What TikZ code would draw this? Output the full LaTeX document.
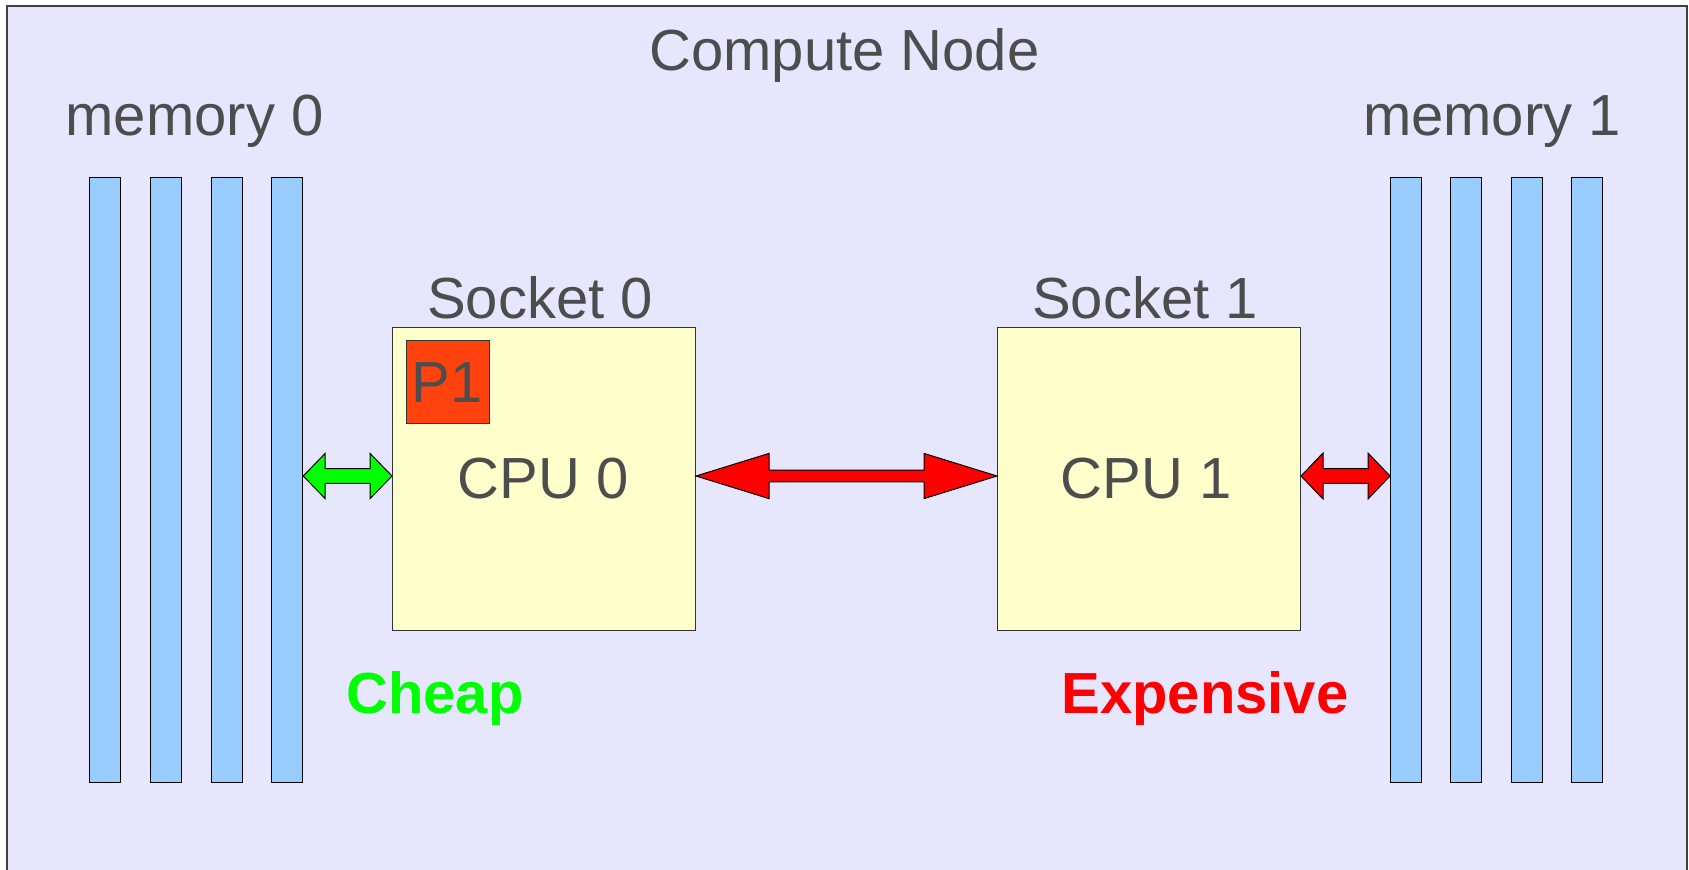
\documentclass[tikz,border=0pt]{standalone}
\usepackage{fontspec}
\setmainfont{Liberation Sans}
\usetikzlibrary{calc}
\definecolor{bgc}{HTML}{E6E6FF}
\definecolor{barc}{HTML}{99CCFF}
\definecolor{cpuc}{HTML}{FFFFCC}
\definecolor{pc}{HTML}{FF420E}
\definecolor{txt}{HTML}{4D4D4D}
\definecolor{grn}{HTML}{00FF00}
\definecolor{rd}{HTML}{FF0000}
\newcommand{\dblarrow}[6]{%
  \draw[#1] let \p1=(#2), \p2=(#3) in
    (\x1,\y1) -- (\x1+#4,\y1+#6) -- (\x1+#4,\y1+#5) -- (\x2-#4,\y1+#5) -- (\x2-#4,\y1+#6)
    -- (\x2,\y1) -- (\x2-#4,\y1-#6) -- (\x2-#4,\y1-#5) -- (\x1+#4,\y1-#5) -- (\x1+#4,\y1-#6) -- cycle;}
\begin{document}
\begin{tikzpicture}[x=0.5pt,y=-0.5pt,
  lbl/.style={font=\fontsize{29}{34}\selectfont, text=txt, anchor=base, inner sep=0},
  bar/.style={draw=black, line width=0.6pt, fill=barc, minimum width=15.5pt, minimum height=302.5pt, anchor=north west, inner sep=0},
  cpubox/.style={draw=black!80, line width=0.5pt, fill=cpuc, minimum width=151.5pt, minimum height=151.5pt, anchor=north west, inner sep=0},
  arrowshape/.style={draw=black, line width=0.5pt, line join=miter}
]
\useasboundingbox (0,0) rectangle (1689,869);
\clip (0,0) rectangle (1689,869);
\fill[white] (0,0) rectangle (1689,869);
\draw[fill=bgc, draw=black!75, line width=0.9pt] (7,6) rectangle (1687,900);

\node[lbl] (title) at (844.5,70.5) {Compute Node};
\node[lbl] (mem0lbl) at (194.5,135) {memory 0};
\node[lbl] (mem1lbl) at (1492,135) {memory 1};

% memory bars
\node[bar] (m0a) at (89,177) {};
\node[bar] (m0b) at (150,177) {};
\node[bar] (m0c) at (211,177) {};
\node[bar] (m0d) at (271,177) {};
\node[bar] (m1a) at (1390,177) {};
\node[bar] (m1b) at (1450,177) {};
\node[bar] (m1c) at (1511,177) {};
\node[bar] (m1d) at (1571,177) {};

% sockets
\node[lbl] (s0lbl) at (540,318) {Socket 0};
\node[lbl] (s1lbl) at (1145,318) {Socket 1};
\node[cpubox] (cpu0) at (392,327) {};
\node[cpubox] (cpu1) at (997,327) {};
\node[draw=black!80, line width=0.5pt, fill=pc, minimum width=41.5pt, minimum height=41.5pt, anchor=north west, inner sep=0] (p1box) at (406,340) {};
\node[lbl] (p1) at (447,402) {P1};
\node[lbl] (cpu0lbl) at (543,498) {CPU 0};
\node[lbl] (cpu1lbl) at (1146,498) {CPU 1};

% arrows
\coordinate (ay) at (0,476);
\dblarrow{arrowshape, fill=grn}{m0d.east |- ay}{cpu0.west |- ay}{11pt}{3.7pt}{11.3pt}
\dblarrow{arrowshape, fill=rd}{cpu0.east |- ay}{cpu1.west |- ay}{36.5pt}{2.9pt}{11.3pt}
\dblarrow{arrowshape, fill=rd}{cpu1.east |- ay}{m1a.west |- ay}{11pt}{3.7pt}{11.5pt}

\node[lbl, font=\fontsize{29}{34}\selectfont\bfseries, text=grn] (cheap) at (435,713) {Cheap};
\node[lbl, font=\fontsize{29}{34}\selectfont\bfseries, text=rd] (exp) at (1205,713) {Expensive};
\end{tikzpicture}
\end{document}
